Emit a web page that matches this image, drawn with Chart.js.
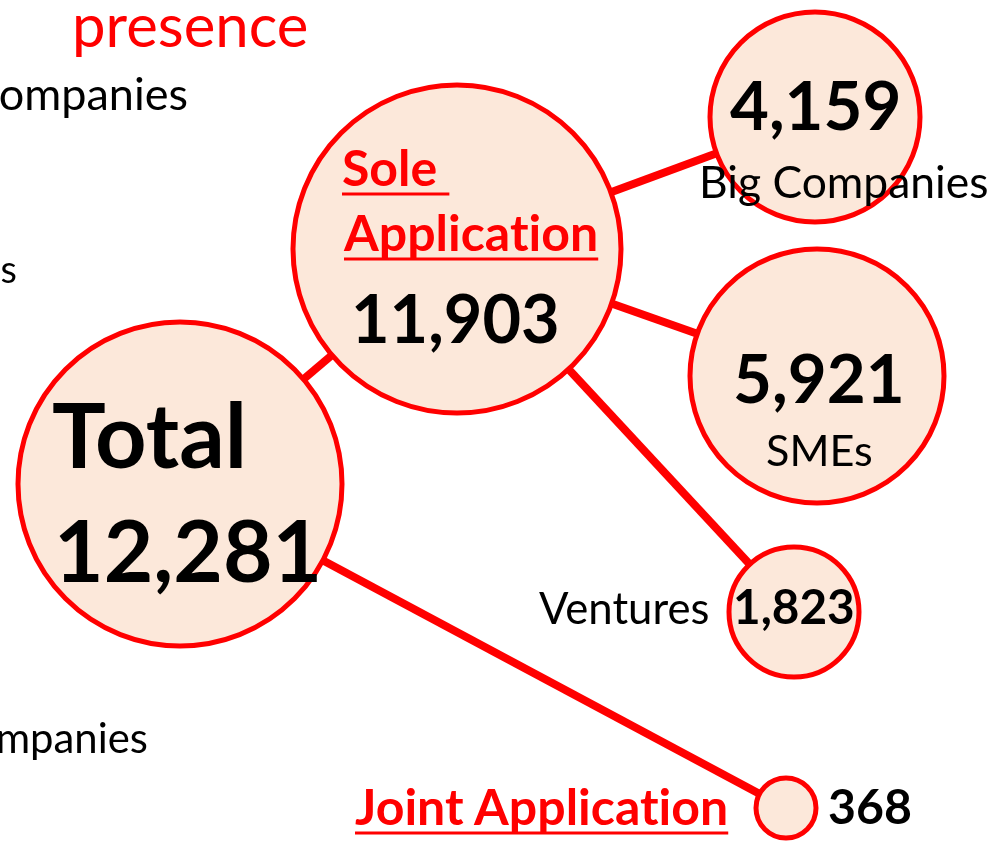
<!DOCTYPE html>
<html><head><meta charset="utf-8">
<script src="https://cdn.jsdelivr.net/npm/chart.js@4/dist/chart.umd.min.js"></script>
<style>html,body{margin:0;padding:0;background:#fff;overflow:hidden}canvas{display:block}</style>
</head><body><canvas id="c" width="996" height="843"></canvas>
<script>
// ---- data ----
const categories = ['Total', 'Sole Application', 'Big Companies', 'SMEs', 'Ventures', 'Joint Application'];
const counts = [12281, 11903, 4159, 5921, 1823, 368];
const countLabels = counts.map(v => v.toLocaleString('en-US'));
// links between nodes (parent -> child)
const links = [[0, 1], [1, 2], [1, 3], [1, 4], [0, 5]];

// ---- layout (pixel space of the 996x843 picture) ----
const nodeX = [180, 457, 815, 817, 794, 786];
const nodeY = [484, 249, 117, 376, 612, 808];
const nodeR = [162, 164, 105, 127, 65, 30];

const RED = '#FF0000';
const FILL = '#FCE8DA';
const FONT = 'Lato, "Open Sans", sans-serif';

// text labels: t text, x left / right anchor, y baseline, w target ink width
const texts = [
  {t: 'presence', x: 76, y: 47, w: 230, bold: false, color: RED},
  {t: 'Big Companies', fit: 'ompanies', right: 188, y: 110, w: 186, bold: false, color: '#000'},
  {t: 'SMEs', fit: 's', right: 17, y: 283, w: 14, bold: false, color: '#000'},
  {t: 'Big Companies', fit: 'mpanies', right: 148, y: 753, w: 148, bold: false, color: '#000'},
  {t: 'Sole ', fit: 'Sole', x: 343, y: 186, w: 93, bold: true, color: RED, underline: true},
  {t: 'Application', x: 343, y: 251, w: 252, bold: true, color: RED, underline: true},
  {t: countLabels[1], x: 355, y: 343, w: 202, bold: true, color: '#000'},
  {t: countLabels[2], x: 730, y: 130, w: 168, bold: true, color: '#000'},
  {t: categories[2], x: 703, y: 198, w: 284, bold: false, color: '#000'},
  {t: countLabels[3], x: 735, y: 403, w: 165, bold: true, color: '#000'},
  {t: categories[3], x: 767, y: 466, w: 104, bold: false, color: '#000'},
  {t: categories[4], x: 539, y: 624, w: 169, bold: false, color: '#000'},
  {t: countLabels[4], x: 736, y: 624, w: 117, bold: true, color: '#000'},
  {t: 'Total', x: 53, y: 468, w: 189, bold: true, color: '#000'},
  {t: countLabels[0], x: 59, y: 582, w: 258, bold: true, color: '#000'},
  {t: categories[5], x: 355, y: 825, w: 370, bold: true, color: RED, underline: true},
  {t: countLabels[5], x: 829, y: 824, w: 81, bold: true, color: '#000'}
];

const textPlugin = {
  id: 'labels',
  afterDatasetsDraw(chart) {
    const ctx = chart.ctx, sx = chart.scales.x, sy = chart.scales.y;
    ctx.save();
    ctx.textBaseline = 'alphabetic';
    ctx.fontKerning = 'normal';
    if ('letterSpacing' in ctx) ctx.letterSpacing = '0.01px';
    for (const it of texts) {
      const weight = it.bold ? 'bold ' : '';
      ctx.font = weight + '100px ' + FONT;
      const m = ctx.measureText(it.fit || it.t);
      const ink = m.actualBoundingBoxRight + m.actualBoundingBoxLeft;
      const size = 100 * it.w / ink;
      ctx.font = weight + size.toFixed(2) + 'px ' + FONT;
      ctx.fillStyle = it.color;
      const y = sy.getPixelForValue(it.y);
      if (it.right !== undefined) {
        ctx.textAlign = 'right';
        ctx.fillText(it.t, sx.getPixelForValue(it.right), y);
      } else {
        ctx.textAlign = 'left';
        const mm = ctx.measureText(it.t);
        const x = sx.getPixelForValue(it.x) + mm.actualBoundingBoxLeft;
        ctx.fillText(it.t, x, y);
        if (it.underline) {
          ctx.fillRect(x, y + size * 0.13, mm.width, Math.max(2.5, size * 0.06));
        }
      }
    }
    ctx.restore();
  }
};

const linkDatasets = links.map(([a, b]) => ({
  type: 'line',
  data: [{x: nodeX[a], y: nodeY[a]}, {x: nodeX[b], y: nodeY[b]}],
  borderColor: RED,
  borderWidth: 8,
  pointRadius: 0,
  fill: false,
  clip: false,
  order: 2
}));

const bubbleData = categories.map((c, i) => ({x: nodeX[i], y: nodeY[i], r: nodeR[i], label: c, v: counts[i]}));

function draw() {
  new Chart(document.getElementById('c'), {
    type: 'bubble',
    data: {
      datasets: [
        {
          type: 'bubble',
          data: bubbleData,
          backgroundColor: FILL,
          borderColor: RED,
          borderWidth: 5,
          hoverBorderWidth: 5,
          clip: false,
          order: 1
        },
        ...linkDatasets
      ]
    },
    options: {
      responsive: false,
      animation: false,
      events: [],
      layout: {padding: 0, autoPadding: false},
      plugins: {legend: {display: false}, tooltip: {enabled: false}},
      scales: {
        x: {type: 'linear', min: 0, max: 996, display: false},
        y: {type: 'linear', min: 0, max: 843, reverse: true, display: false}
      }
    },
    plugins: [textPlugin]
  });
}
if (document.fonts && document.fonts.load) {
  Promise.all([document.fonts.load('bold 40px Lato'), document.fonts.load('40px Lato')]).then(draw, draw);
} else draw();
</script>
</body></html>
